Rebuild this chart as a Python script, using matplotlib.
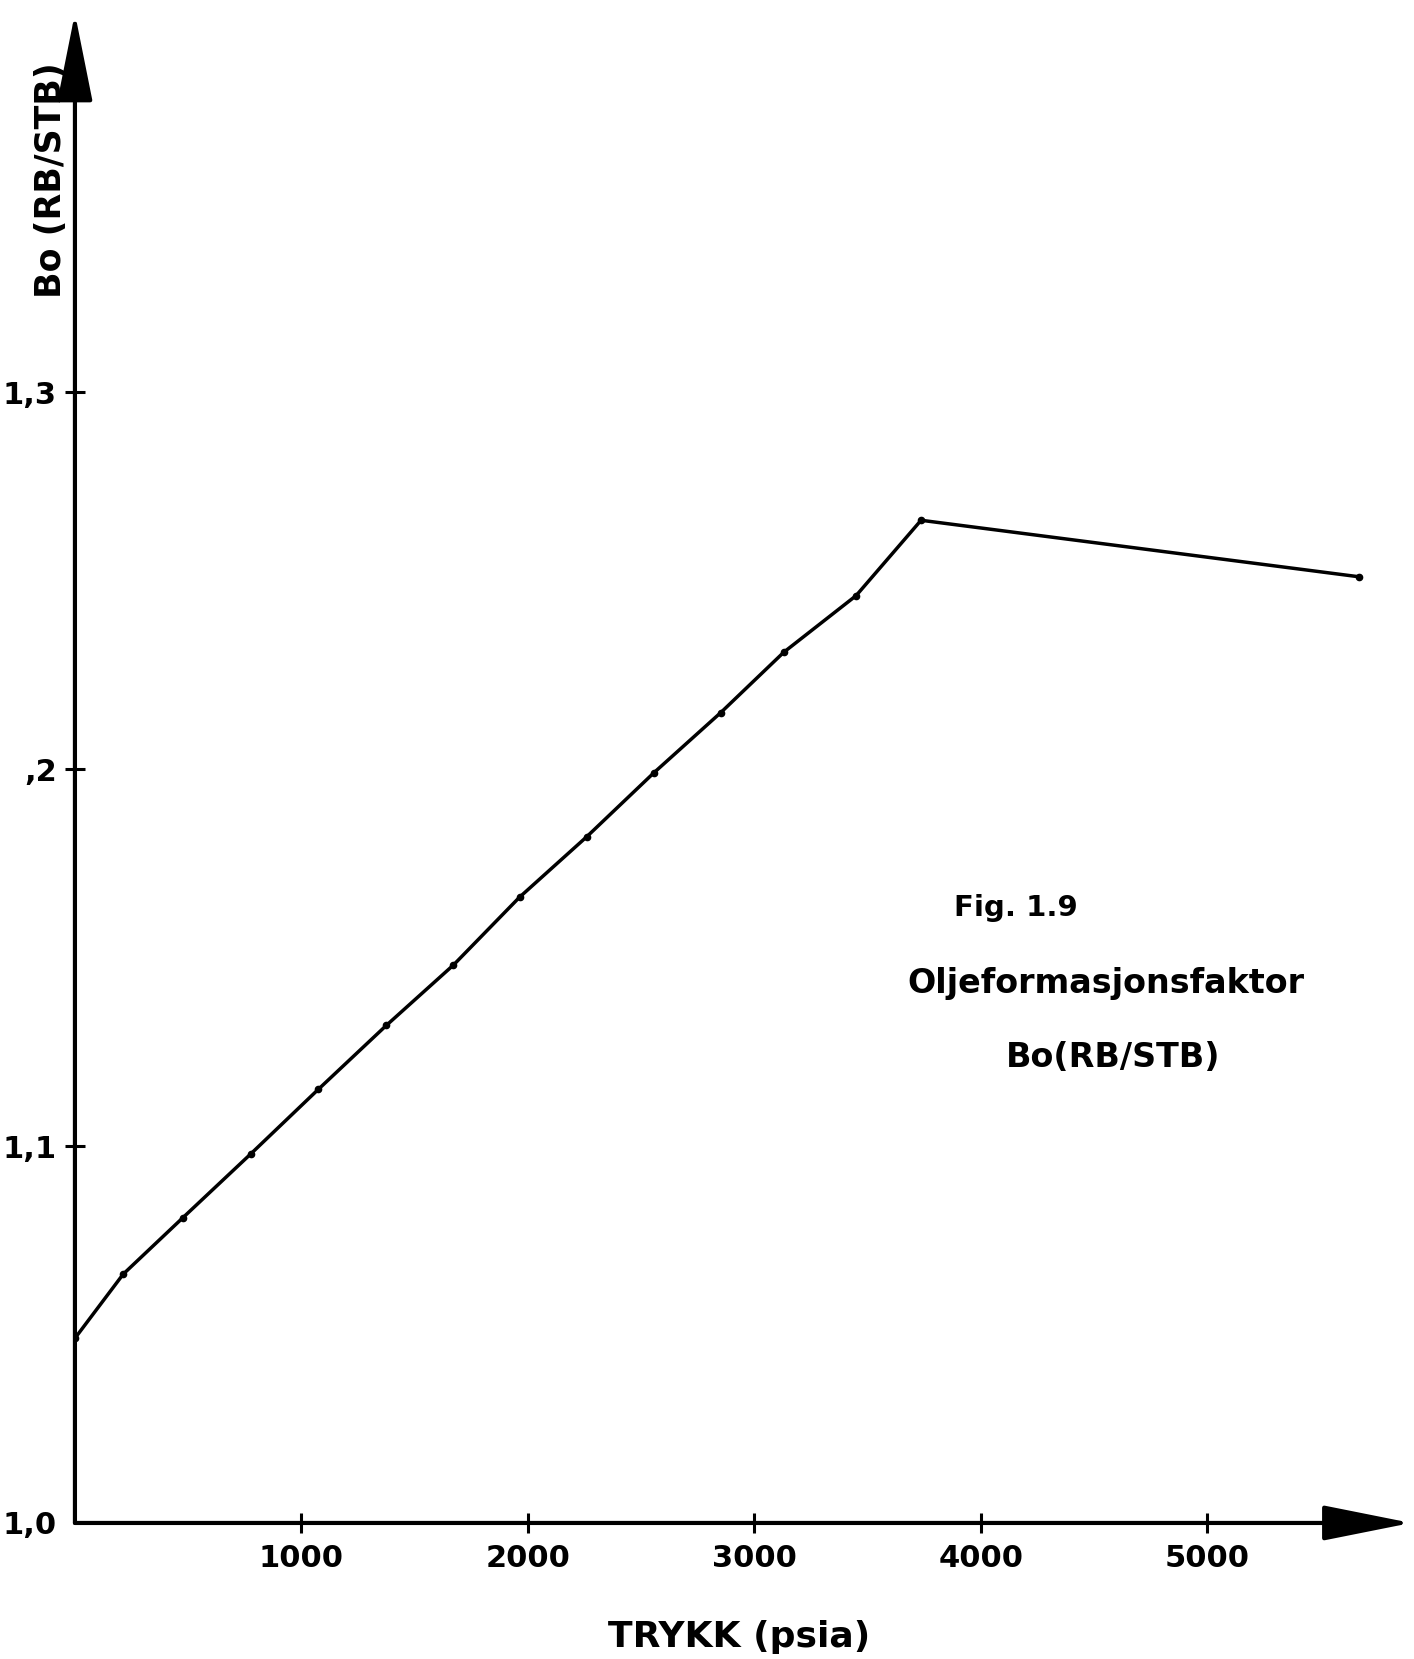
import matplotlib.pyplot as plt

# Trykk (psia) og Bo (RB/STB), lest av figuren
trykk = [0, 213, 477, 778, 1074, 1375, 1671, 1963, 2259, 2556, 2852, 3130, 3449, 3736, 5671]
bo = [1.049, 1.066, 1.081, 1.098, 1.115, 1.132, 1.148, 1.166, 1.182, 1.199, 1.215, 1.231, 1.246, 1.266, 1.251]

x_ticks = [1000, 2000, 3000, 4000, 5000]
x_labels = ['1000', '2000', '3000', '4000', '5000']
y_ticks = [1.0, 1.1, 1.2, 1.3]
y_labels = ['1,0', '1,1', ',2', '1,3']

fig = plt.figure(figsize=(14.14, 16.59), dpi=100)
ax = fig.add_axes([0.053, 0.082, 0.945, 0.910])

ax.plot(trykk, bo, color='black', lw=2.5, marker='o', markersize=4.5, solid_capstyle='round')

ax.set_xlim(0, 5900)
ax.set_ylim(1.0, 1.4005)

for s in ax.spines.values():
    s.set_visible(False)

# akser med piler
arrow = dict(arrowstyle='-|>,head_length=5.5,head_width=1.1', mutation_scale=10,
             color='black', lw=3, shrinkA=0, shrinkB=0)
ax.annotate('', xy=(1.0, 0), xytext=(0, 0), xycoords='axes fraction',
            textcoords='axes fraction', arrowprops=arrow, annotation_clip=False)
ax.annotate('', xy=(0, 1.0), xytext=(0, 0), xycoords='axes fraction',
            textcoords='axes fraction', arrowprops=arrow, annotation_clip=False)

ax.set_xticks(x_ticks)
ax.set_xticklabels(x_labels, fontweight='bold', fontsize=22)
ax.set_yticks(y_ticks)
ax.set_yticklabels(y_labels, fontweight='bold', fontsize=22)
ax.tick_params(axis='both', direction='inout', length=14, width=2.2)
ax.tick_params(axis='x', pad=8)
ax.tick_params(axis='y', pad=6)
ax.yaxis.get_major_ticks()[0].tick1line.set_visible(False)

fig.text(0.036, 0.8915, 'Bo (RB/STB)', rotation=90, ha='center', va='center',
         fontsize=25, fontweight='bold')
fig.text(0.5226, 0.0135, 'TRYKK (psia)', ha='center', va='center',
         fontsize=26, fontweight='bold')

fig.text(0.7185, 0.4527, 'Fig. 1.9', ha='center', va='center', fontsize=21, fontweight='bold')
fig.text(0.782, 0.4069, 'Oljeformasjonsfaktor', ha='center', va='center', fontsize=24, fontweight='bold')
fig.text(0.787, 0.3623, 'Bo(RB/STB)', ha='center', va='center', fontsize=24, fontweight='bold')

fig.savefig('out.png', dpi=100, facecolor='white')
